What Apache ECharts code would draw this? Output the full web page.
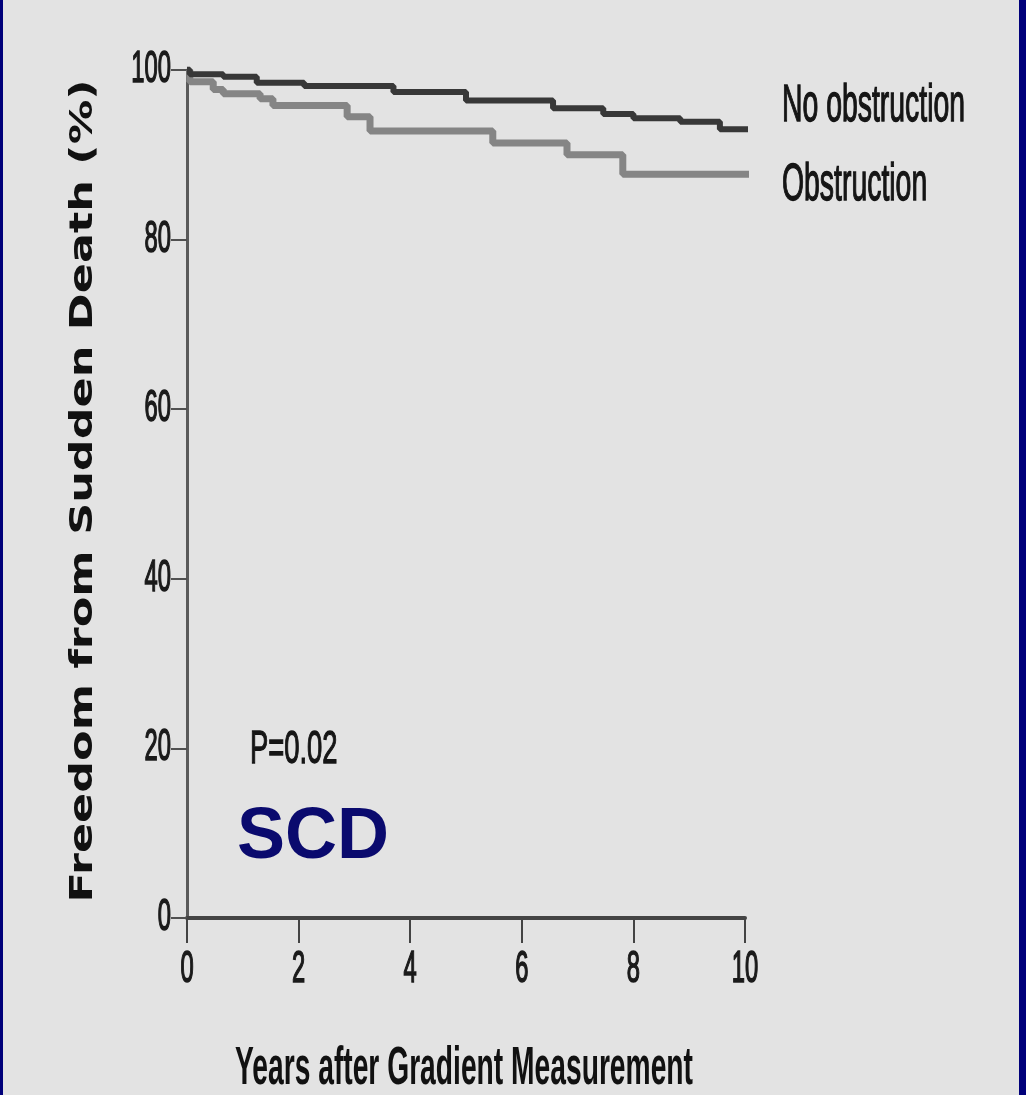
<!DOCTYPE html>
<html>
<head>
<meta charset="utf-8">
<title>Freedom from Sudden Death</title>
<script src="https://cdn.jsdelivr.net/npm/echarts@6.0.0/dist/echarts.min.js"></script>
<style>
	html, body { margin: 0; padding: 0; background: #e3e3e3; }
	#main { width: 1026px; height: 1095px; }
</style>
</head>
<body>
<div id="main"></div>
<script>
// series names
var seriesNames = ['No obstruction', 'Obstruction'];

// Kaplan-Meier steps: [years, % free from sudden death]
var noObstructionData = [
	[0, 100], [0.05, 99.5], [0.65, 99.2], [1.25, 98.5], [2.1, 98.1],
	[3.7, 97.4], [5.0, 96.4], [6.56, 95.5], [7.46, 94.8], [8.0, 94.3],
	[8.84, 93.9], [9.55, 93.0], [10.2, 93.0]
];
var obstructionData = [
	[0, 100], [0.05, 98.6], [0.47, 97.7], [0.65, 97.2], [1.31, 96.6],
	[1.54, 95.8], [2.87, 94.5], [3.28, 92.8], [5.48, 91.4], [6.81, 90.0],
	[7.81, 87.7], [10.2, 87.7]
];

// axis ranges / tick labels
var xTicks = { min: 0, max: 10, interval: 2 };
var yTicks = { min: 0, max: 100, interval: 20 };
var xTickLabels = ['0', '2', '4', '6', '8', '10'];
var yTickLabels = ['0', '20', '40', '60', '80', '100'];

var xTitle = 'Years after Gradient Measurement';
var yTitle = 'Freedom from Sudden Death (%)';
var pText = 'P=0.02';
var tagText = 'SCD';

var sans = '"Liberation Sans", Arial, sans-serif';

// text element; the original type is a tall condensed face, so it is squeezed with scaleX/scaleY
function txt(text, x, y, st, extra) {
	var el = {
		type: 'text',
		x: x,
		y: y,
		style: {
			text: text,
			fill: st.fill || '#151515',
			fontFamily: st.fontFamily || sans,
			fontSize: st.fontSize,
			fontWeight: st.fontWeight || 'normal',
			align: st.align || 'left',
			textAlign: st.align || 'left',
			verticalAlign: 'middle',
			textVerticalAlign: 'middle'
		}
	};
	if (st.heavy) {
		// thicken thin strokes a little
		el.style.stroke = el.style.fill;
		el.style.lineWidth = 0.9;
	}
	for (var k in extra) el[k] = extra[k];
	return el;
}

var myChart = echarts.init(document.getElementById('main'));
var graphics = [
	// slide frame
	{ type: 'rect', shape: { x: 0, y: 0, width: 3, height: 1095 }, style: { fill: '#00007a' } },
	{ type: 'rect', shape: { x: 1019, y: 0, width: 7, height: 1095 }, style: { fill: '#00007a' } },
	// line labels
	txt(seriesNames[0], 782, 107, { fontSize: 34, heavy: true }, { scaleX: 0.835, scaleY: 1.5 }),
	txt(seriesNames[1], 782, 186, { fontSize: 34, heavy: true }, { scaleX: 0.835, scaleY: 1.5 }),
	// axis titles
	txt(xTitle, 464, 1069, { fontSize: 34, fontWeight: 'bold', align: 'center', fill: '#111' }, { scaleX: 0.83, scaleY: 1.6 }),
	txt(yTitle, 84, 491, { fontSize: 32, fontWeight: 'bold', align: 'center', fontFamily: '"DejaVu Sans", Verdana, sans-serif', fill: '#111' },
		{ rotation: Math.PI / 2, scaleX: 1.39 }),
	// p value and tag
	txt(pText, 250, 750, { fontSize: 33, heavy: true }, { scaleX: 0.83, scaleY: 1.4 }),
	txt(tagText, 313, 838, { fontSize: 72, fontWeight: 'bold', align: 'center', fill: '#0a0a6e' })
];

var option = {
	backgroundColor: '#e3e3e3',
	animation: false,
	grid: {
		left: 187,
		right: 281,
		top: 70,
		bottom: 177
	},
	xAxis: {
		type: 'value',
		min: xTicks.min,
		max: xTicks.max,
		interval: xTicks.interval,
		axisLine: { show: true, onZero: false, lineStyle: { color: '#444', width: 4 } },
		axisTick: { show: true, length: 25, lineStyle: { color: '#444', width: 2 } },
		axisLabel: { show: false },
		splitLine: { show: false }
	},
	yAxis: {
		type: 'value',
		min: yTicks.min,
		max: yTicks.max,
		interval: yTicks.interval,
		axisLine: { show: true, lineStyle: { color: '#5a5a5a', width: 3 } },
		axisTick: { show: true, length: 16, lineStyle: { color: '#505050', width: 2 } },
		axisLabel: { show: false },
		splitLine: { show: false }
	},
	series: [
		{
			name: seriesNames[1],
			type: 'line',
			step: 'end',
			symbol: 'none',
			clip: false,
			lineStyle: { color: '#858585', width: 7 },
			data: obstructionData
		},
		{
			name: seriesNames[0],
			type: 'line',
			step: 'end',
			symbol: 'none',
			clip: false,
			lineStyle: { color: '#383838', width: 6 },
			data: noObstructionData
		}
	],
	graphic: graphics
};
myChart.setOption(option);

// tick labels placed with the chart's own scales, drawn condensed like the original
var labelStyle = { fontSize: 25, fill: '#1a1a1a' };
xTickLabels.forEach(function (s) {
	var p = myChart.convertToPixel({ gridIndex: 0 }, [Number(s), yTicks.min]);
	graphics.push(txt(s, p[0], p[1] + 52, { fontSize: labelStyle.fontSize, fill: labelStyle.fill, align: 'center', heavy: true },
		{ scaleX: 0.95, scaleY: 1.75 }));
});
yTickLabels.forEach(function (s) {
	var p = myChart.convertToPixel({ gridIndex: 0 }, [xTicks.min, Number(s)]);
	graphics.push(txt(s, p[0] - 16, p[1], { fontSize: labelStyle.fontSize, fill: labelStyle.fill, align: 'right', heavy: true },
		{ scaleX: 0.95, scaleY: 1.75 }));
});
myChart.setOption({ graphic: graphics });
</script>
</body>
</html>
